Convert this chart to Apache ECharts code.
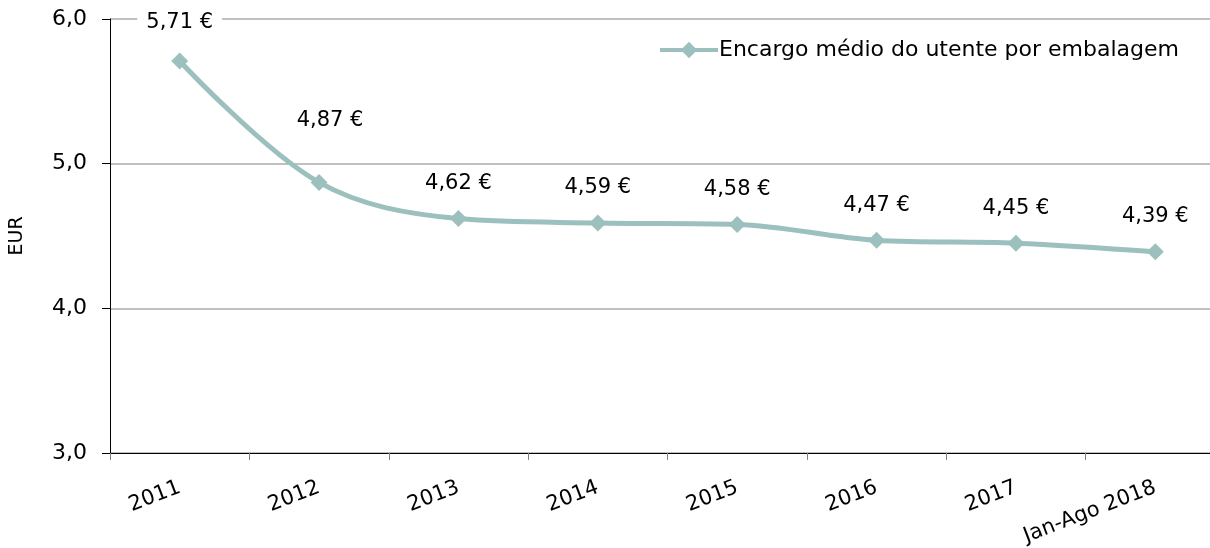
<!DOCTYPE html>
<html><head><meta charset="utf-8">
<script src="https://cdn.jsdelivr.net/npm/echarts@6/dist/echarts.min.js"></script>
<style>html,body{margin:0;padding:0;background:#fff;overflow:hidden;width:1210px;height:548px}#c{width:1225px;height:548px}</style>
</head><body><div id="c"></div>
<script>
const categories = ['2011','2012','2013','2014','2015','2016','2017','Jan-Ago 2018'];
const values = [5.71, 4.87, 4.62, 4.59, 4.58, 4.47, 4.45, 4.39];
const seriesName = 'Encargo médio do utente por embalagem';
const yTicks = [3, 4, 5, 6];
const FONT = 'DejaVu Sans';
const fmt = v => v.toFixed(2).replace('.', ',') + ' €';
const data = values.map((v, i) => {
  const d = { value: v };
  if (i === 0) d.label = { offset: [0, -3] };
  if (i === 1) d.label = { offset: [11, -27] };
  return d;
});
const chart = echarts.init(document.getElementById('c'));
chart.setOption({
  animation: false,
  textStyle: { fontFamily: FONT },
  grid: { left: 110, right: 0, top: 19, bottom: 95, containLabel: false },
  legend: {
    data: [{ name: seriesName, icon: 'path://M0,6 L22,6 L28,0 L34,6 L56,6 L56,10 L34,10 L28,16 L22,10 L0,10 Z' }],
    left: 655, top: 34, itemWidth: 58, itemHeight: 17, itemGap: 4,
    textStyle: { fontFamily: FONT, fontSize: 22, color: '#000', padding: [0, 0, 0, -4] }
  },
  xAxis: {
    type: 'category', data: categories, boundaryGap: true,
    axisLine: { lineStyle: { color: '#000', width: 1 } },
    axisTick: { show: true, length: 7, lineStyle: { color: '#808080' } },
    axisLabel: { rotate: 21, fontSize: 21, color: '#000', margin: 34, fontFamily: FONT }
  },
  yAxis: {
    type: 'value', min: 3, max: 6, interval: 1,
    name: 'EUR', nameLocation: 'middle', nameGap: 83, nameRotate: 90,
    nameTextStyle: { fontSize: 19, color: '#000', fontFamily: FONT },
    axisLine: { show: true, lineStyle: { color: '#000' } },
    axisTick: { show: true, length: 8, lineStyle: { color: '#000' } },
    axisLabel: { fontSize: 22, color: '#000', margin: 23, fontFamily: FONT,
      formatter: v => yTicks.includes(v) ? v.toFixed(1).replace('.', ',') : '' },
    splitLine: { show: true, lineStyle: { color: '#C0C0C0', width: 2 } }
  },
  series: [{
    name: seriesName, type: 'line', data: data, smooth: 0.35,
    symbol: 'diamond', symbolSize: 17,
    lineStyle: { color: '#9BC0BD', width: 5 },
    itemStyle: { color: '#9BC0BD' },
    label: { show: true, position: 'top', distance: 12, formatter: p => fmt(p.value),
      fontSize: 21, color: '#000', fontFamily: FONT, backgroundColor: '#fff', padding: [4, 9] }
  }]
});
</script></body></html>
